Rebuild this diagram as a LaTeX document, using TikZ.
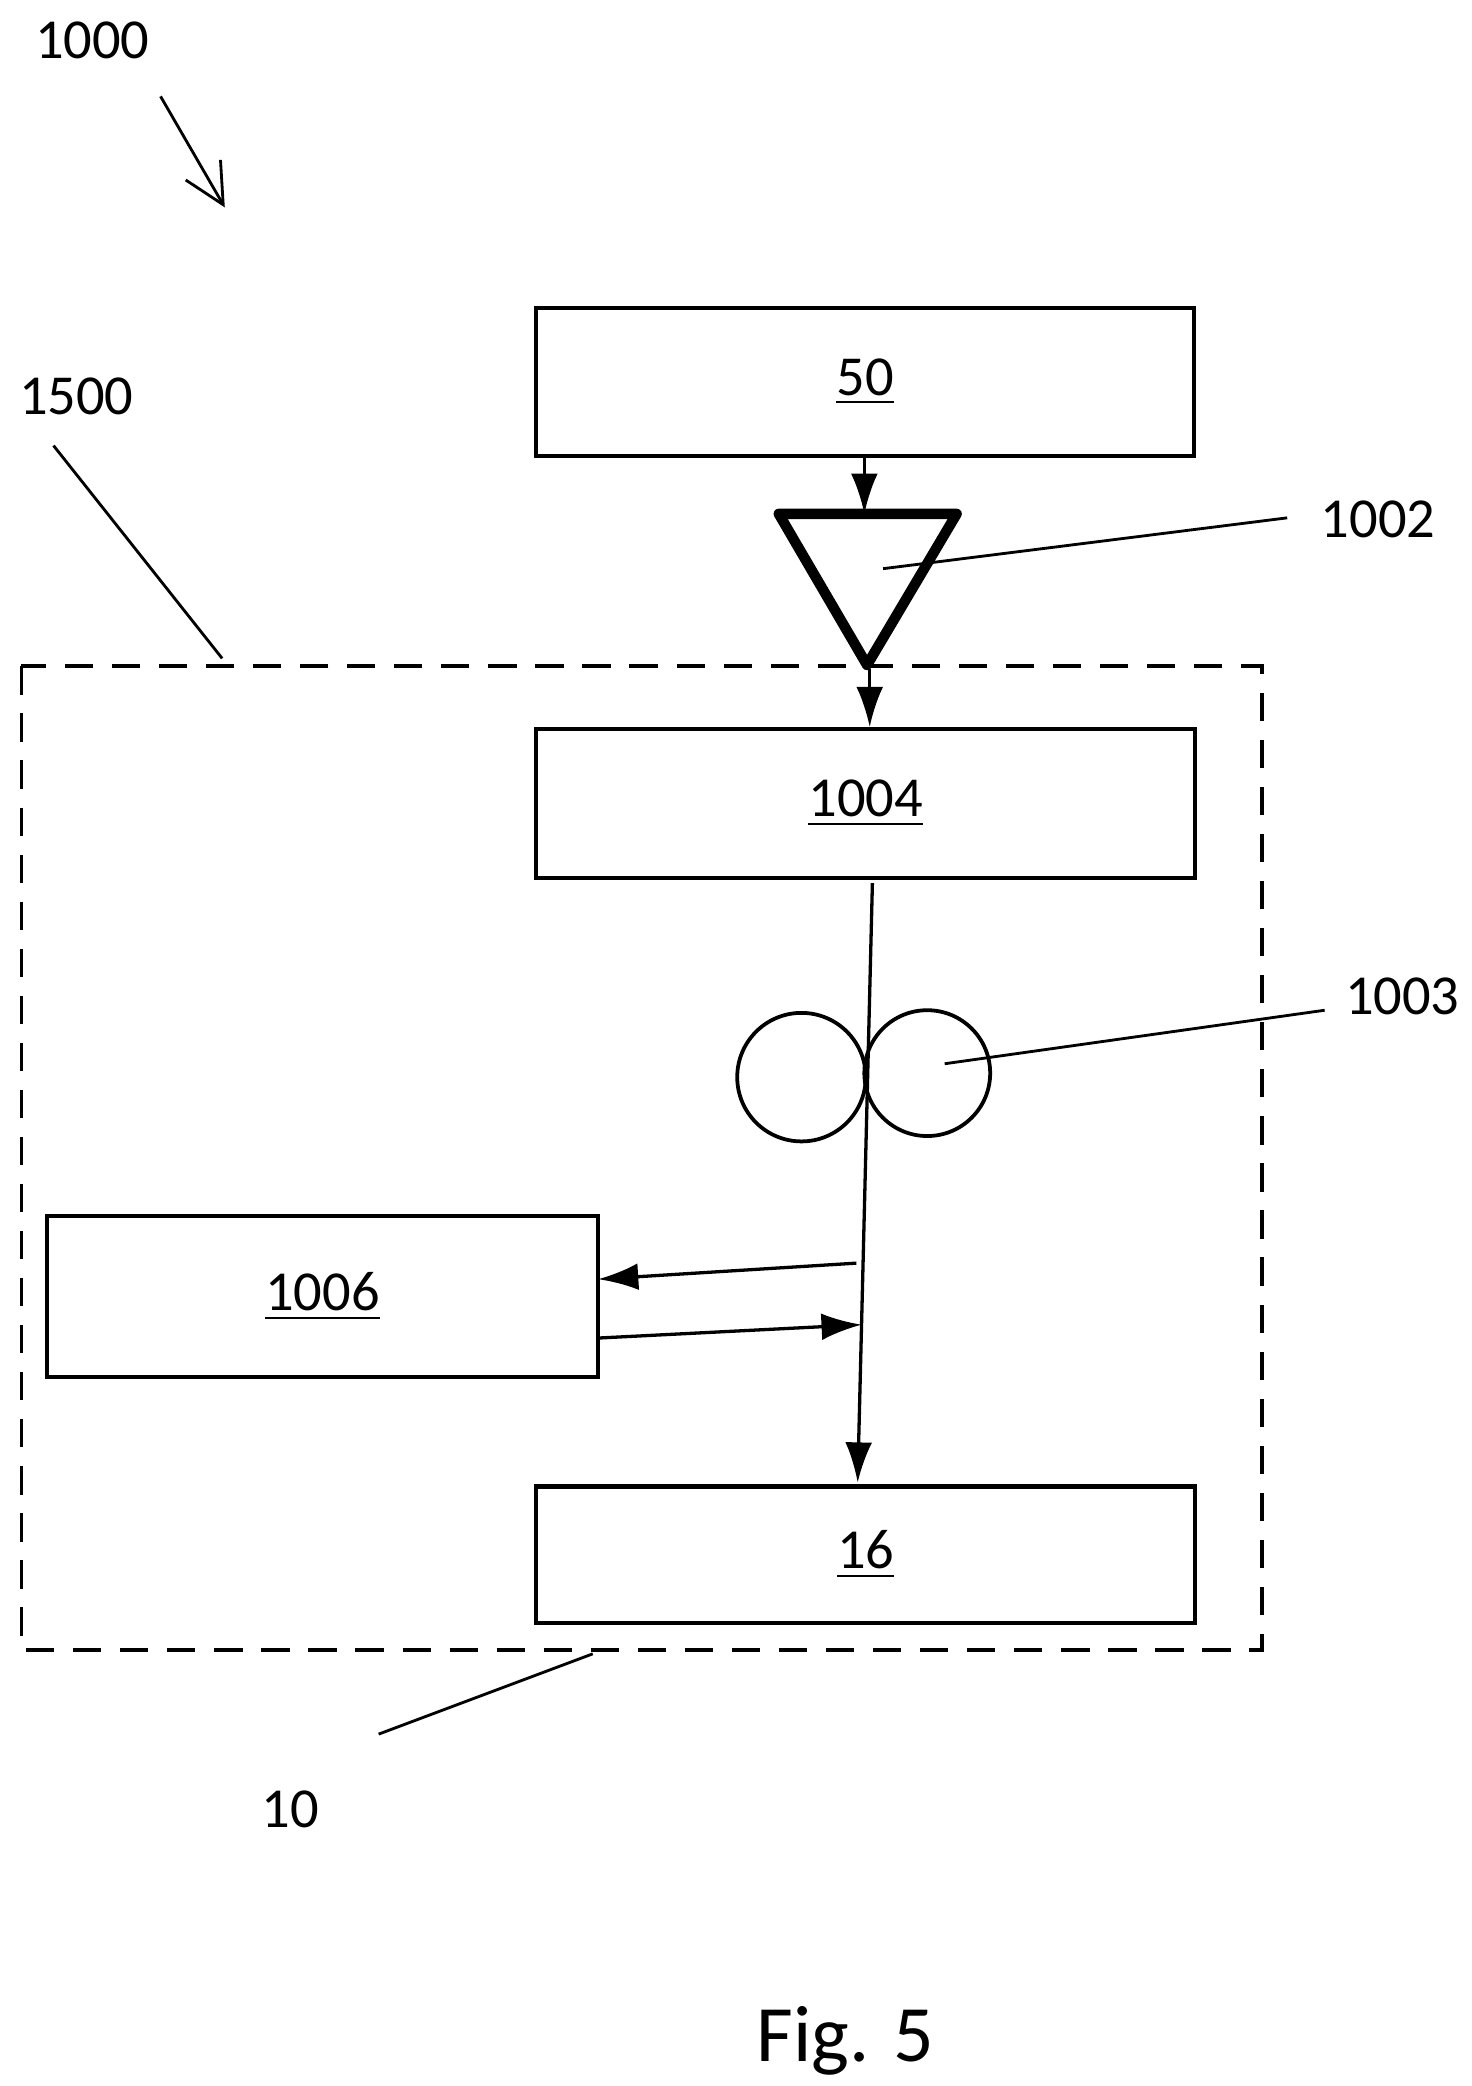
\documentclass[tikz,border=0pt]{standalone}
\usepackage{fontspec}
\setmainfont{Carlito}
\usetikzlibrary{arrows.meta}
\begin{document}
\begin{tikzpicture}[x=0.01cm, y=-0.01cm,
    every node/.style={font=\fontsize{12}{14}\selectfont},
    block/.style={draw, line width=0.9pt, inner sep=0pt},
    lbl/.style={inner sep=0pt},
    flow/.style={-{Latex[length=3mm,width=2mm]}, line width=0.7pt},
    lead/.style={line width=0.6pt}
]
\useasboundingbox (0,0) rectangle (1100,1559);

% blocks
\node[block, minimum width=4.91cm, minimum height=1.11cm] (b50) at (646.5,285.5) {\underline{50}};
\node[block, minimum width=4.92cm, minimum height=1.11cm] (b1004) at (647,600.5) {\underline{1004}};
\node[block, minimum width=4.12cm, minimum height=1.2cm] (b1006) at (241,969) {\underline{1006}};
\node[block, minimum width=4.92cm, minimum height=1.02cm] (b16) at (647,1162) {\underline{16}};

% hopper
\draw[line width=2.2pt, line join=round] (582,384) -- (715,384) -- (648,497) -- cycle;
\coordinate (htop) at (646,384);
\coordinate (hbot) at (650,500);
\coordinate (hin) at (660,425);

% rollers
\node[draw, circle, line width=0.8pt, minimum size=0.96cm, inner sep=0pt] (r1) at (599,805) {};
\node[draw, circle, line width=0.8pt, minimum size=0.94cm, inner sep=0pt] (r2) at (693,802) {};
\coordinate (rin) at (706,795);

% enclosure
\draw[dashed, line width=0.8pt, dash pattern=on 6pt off 4pt] (16,498) rectangle (943,1233);

% flow
\draw[flow] (b50.south -| htop) -- (htop);
\draw[flow] (hbot) -- (b1004.north -| hbot);
\coordinate (s0) at (652,660);
\coordinate (s1) at (641,1108);
\draw[flow] (s0) -- (s1);
\coordinate (o1) at (640,944);
\coordinate (o2) at (644,990);
\draw[flow] (o1) -- (447,956);
\draw[flow] (447,1000) -- (o2);

% labels
\node[lbl] (l1000) at (69,30) {1000};
\node[lbl] (l1500) at (57,296) {1500};
\node[lbl] (l1002) at (1030,388) {1002};
\node[lbl] (l1003) at (1048,745) {1003};
\node[lbl] (l10) at (217,1352) {10};
\node[lbl, font=\fontsize{17}{20}\selectfont] (fig) at (632,1525) {Fig. 5};

% leaders
\coordinate (a0) at (120,72);
\coordinate (a1) at (168,155);
\draw[-{Straight Barb[length=3mm,width=3mm]}, lead] (a0) -- (a1);
\draw[lead] (40,333) -- (166,492);
\draw[lead] (hin) -- (962,387);
\draw[lead] (rin) -- (990,755);
\draw[lead] (283,1296) -- (443,1236);
\end{tikzpicture}
\end{document}
